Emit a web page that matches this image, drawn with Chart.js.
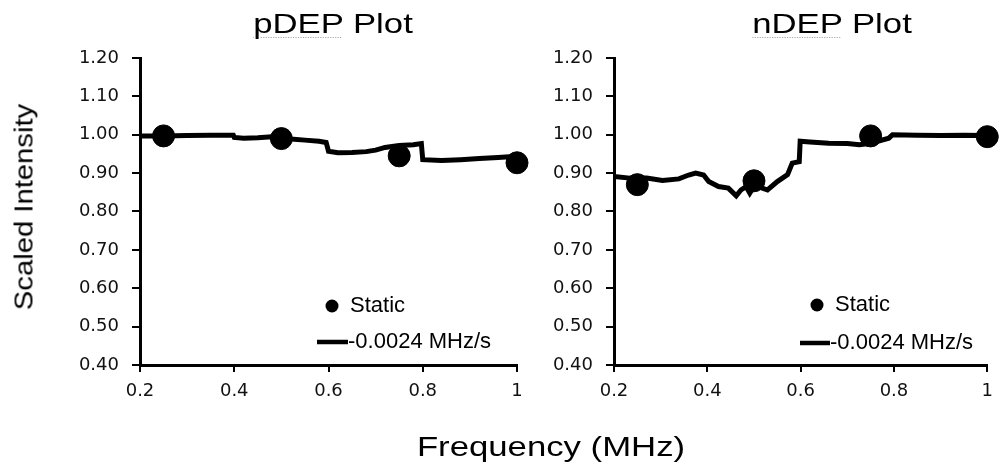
<!DOCTYPE html>
<html>
<head>
<meta charset="utf-8">
<script src="https://cdn.jsdelivr.net/npm/chart.js@4.4.0/dist/chart.umd.min.js"></script>
<style>
  body { margin: 0; background: #fff; width: 1002px; height: 464px; position: relative; overflow: hidden; font-family: "Liberation Sans", Arial, sans-serif; }
  .box { position: absolute; top: 0; height: 464px; }
  .lbl { position: absolute; white-space: nowrap; color: #000; line-height: 1; }
  .sp { text-decoration: underline dotted #aaa; text-underline-offset: 4px; text-decoration-thickness: 1px; }
</style>
</head>
<body>
<div class="box" style="left:0;width:540px"><canvas id="pdep"></canvas></div>
<div class="box" style="left:540px;width:462px"><canvas id="ndep"></canvas></div>
<div class="lbl" style="left:333px;top:24px;font-size:28px;transform:translate(-50%,-50%) scaleX(1.24)"><span class="sp">pDEP</span> Plot</div>
<div class="lbl" style="left:832px;top:24px;font-size:28px;transform:translate(-50%,-50%) scaleX(1.24)"><span class="sp">nDEP</span> Plot</div>
<div class="lbl" style="left:551px;top:447px;font-size:28px;transform:translate(-50%,-50%) scaleX(1.24)">Frequency (MHz)</div>
<div class="lbl" style="left:24px;top:207px;font-size:25px;transform:translate(-50%,-50%) rotate(-90deg) scaleX(1.17)">Scaled Intensity</div>
<script>
// static measurements
const staticFreq = [0.25, 0.5, 0.75, 1.0];
const pdepStatic = [0.997, 0.990, 0.945, 0.927];
const ndepStatic = [0.870, 0.880, 0.997, 0.995];

// swept frequency, -0.0024 MHz/s
const pdepFreq = [0.20, 0.25, 0.30, 0.35, 0.398, 0.40, 0.42, 0.45, 0.48, 0.50, 0.52, 0.55, 0.58, 0.595,
  0.60, 0.62, 0.65, 0.68, 0.70, 0.72, 0.75, 0.78, 0.797, 0.80, 0.84, 0.88, 0.92, 0.96, 1.0];
const pdepRamp = [0.997, 0.997, 0.998, 0.999, 0.999, 0.993, 0.991, 0.992, 0.995, 0.994, 0.989, 0.986, 0.983, 0.980,
  0.957, 0.953, 0.954, 0.956, 0.960, 0.967, 0.972, 0.974, 0.977, 0.935, 0.933, 0.935, 0.938, 0.941, 0.944];

const ndepFreq = [0.20, 0.234, 0.27, 0.304, 0.339, 0.36, 0.375, 0.392, 0.403, 0.424, 0.445, 0.462, 0.472, 0.483,
  0.491, 0.502, 0.515, 0.529, 0.55, 0.572, 0.582, 0.597, 0.599, 0.62, 0.66, 0.70, 0.726, 0.75, 0.789, 0.797,
  0.85, 0.90, 0.95, 1.0];
const ndepRamp = [0.891, 0.887, 0.887, 0.881, 0.885, 0.895, 0.900, 0.895, 0.878, 0.865, 0.861, 0.841, 0.856, 0.865,
  0.848, 0.869, 0.862, 0.856, 0.878, 0.896, 0.926, 0.930, 0.983, 0.981, 0.978, 0.977, 0.974, 0.978, 0.991, 1.000,
  0.999, 0.998, 0.999, 0.998];

const insideLegend = {
  id: 'insideLegend',
  afterDraw(chart, args, o) {
    const { ctx, chartArea } = chart;
    const l = chartArea.left, t = chartArea.top;
    const ramp = chart.data.datasets[0], stat = chart.data.datasets[1];
    ctx.save();
    ctx.fillStyle = '#000';
    ctx.strokeStyle = '#000';
    ctx.font = '22px "Liberation Sans", Arial, sans-serif';
    ctx.textBaseline = 'middle';
    ctx.beginPath();
    ctx.arc(l + o.dotX, t + o.row1, 6.5, 0, Math.PI * 2);
    ctx.fill();
    ctx.fillText(stat.label, l + o.text1, t + o.row1);
    ctx.lineWidth = 4.5;
    ctx.beginPath();
    ctx.moveTo(l + o.lineX0, t + o.row2);
    ctx.lineTo(l + o.lineX1, t + o.row2);
    ctx.stroke();
    ctx.fillText(ramp.label, l + o.lineX1, t + o.row2);
    ctx.restore();
  }
};

function makeChart(id, freq, ramp, statVals, yWidth, padRight, legendPos) {
  const tickFont = { family: '"DejaVu Sans", sans-serif', size: 18 };
  new Chart(document.getElementById(id), {
    type: 'scatter',
    data: {
      datasets: [{
        label: '-0.0024 MHz/s',
        data: freq.map((f, i) => ({ x: f, y: ramp[i] })),
        showLine: true,
        borderColor: '#000',
        borderWidth: 5,
        pointRadius: 0,
        tension: 0,
        clip: false,
        order: 2
      }, {
        label: 'Static',
        data: staticFreq.map((f, i) => ({ x: f, y: statVals[i] })),
        pointRadius: 11,
        backgroundColor: '#000',
        borderColor: '#000',
        clip: false,
        order: 1
      }]
    },
    options: {
      responsive: true,
      maintainAspectRatio: false,
      animation: false,
      layout: { padding: { top: 58, right: padRight, left: 0, bottom: 0 } },
      plugins: {
        legend: { display: false },
        tooltip: { enabled: false },
        insideLegend: legendPos
      },
      scales: {
        x: {
          type: 'linear', min: 0.2, max: 1,
          ticks: { stepSize: 0.2, color: '#111', font: tickFont, padding: 9,
            callback: v => String(+v.toFixed(1)) },
          grid: { drawOnChartArea: false, color: '#000', lineWidth: 2, tickLength: 7 },
          border: { color: '#000', width: 3 },
          afterFit: s => { s.height = 99; }
        },
        y: {
          min: 0.4, max: 1.2,
          ticks: { stepSize: 0.1, color: '#111', font: tickFont, padding: 13,
            callback: v => v.toFixed(2) },
          grid: { drawOnChartArea: false, color: '#000', lineWidth: 2, tickLength: 8 },
          border: { color: '#000', width: 3 },
          afterFit: s => { s.width = yWidth; }
        }
      }
    },
    plugins: [insideLegend]
  });
}

makeChart('pdep', pdepFreq, pdepRamp, pdepStatic, 140, 23,
  { dotX: 192, text1: 210, row1: 248, lineX0: 177, lineX1: 208, row2: 284 });
makeChart('ndep', ndepFreq, ndepRamp, ndepStatic, 74, 9,
  { dotX: 203, text1: 221, row1: 247, lineX0: 186, lineX1: 216, row2: 285 });
</script>
</body>
</html>
